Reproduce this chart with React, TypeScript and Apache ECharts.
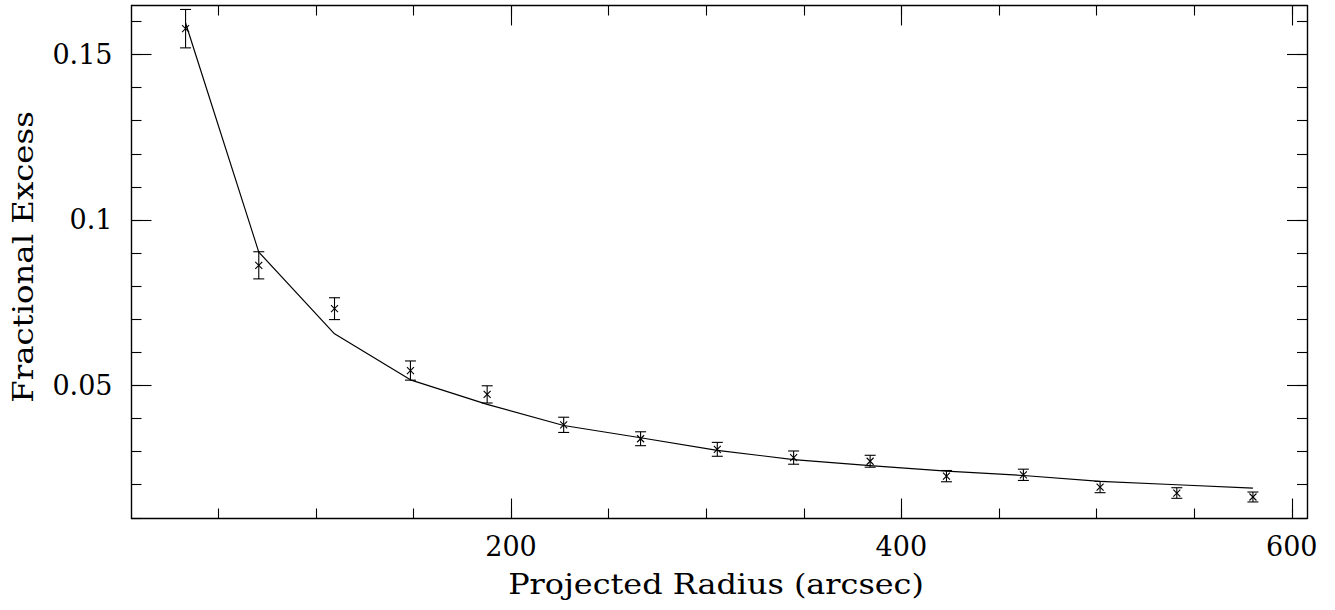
import React, { useEffect, useRef } from "react";
import * as echarts from "echarts";

const radius = [33.3, 70.8, 109.6, 148.5, 187.8, 227.0, 266.4, 305.7, 344.8, 384.0, 423.1, 462.5, 501.8, 541.1, 580.1];
const excess = [0.1578, 0.0863, 0.0732, 0.0545, 0.0473, 0.0381, 0.0339, 0.0307, 0.0282, 0.0271, 0.0226, 0.023, 0.0193, 0.0175, 0.0163];
const errors = [0.0058, 0.0041, 0.0033, 0.0029, 0.0026, 0.0023, 0.0021, 0.0021, 0.002, 0.0018, 0.0017, 0.0017, 0.0017, 0.0016, 0.0015];
const model = [0.1595, 0.0903, 0.0656, 0.0517, 0.0443, 0.0379, 0.0342, 0.0304, 0.0276, 0.0258, 0.0241, 0.0228, 0.021, 0.02, 0.019];

// Axis ticks
const xMajorTicks = [200, 400, 600];
const xMinorTicks = [50, 100, 150, 200, 250, 300, 350, 400, 450, 500, 550, 600];
const yMajorTicks = [0.05, 0.1, 0.15];
const yMinorTicks = [0.01, 0.02, 0.03, 0.04, 0.05, 0.06, 0.07, 0.08, 0.09, 0.1, 0.11, 0.12, 0.13, 0.14, 0.15, 0.16];

const xTitle = "Projected Radius (arcsec)";
const yTitle = "Fractional Excess";

const X_MIN = 5.6;
const X_MAX = 607.8;
const Y_MIN = 0.0098;
const Y_MAX = 0.1648;

const FONT = "DejaVu Serif";
const INK = "#000";

export default function App() {
  const ref = useRef<HTMLDivElement>(null);

  useEffect(() => {
    if (!ref.current) return;
    const chart = echarts.init(ref.current, undefined, { renderer: "svg" });

    const lineStyle = { color: INK, width: 1.4 };
    const baseX = (position: string, ticks: number[], len: number, showLine: boolean, labels: boolean) => ({
      type: "value",
      position,
      min: X_MIN,
      max: X_MAX,
      splitLine: { show: false },
      axisLine: { show: showLine, onZero: false, lineStyle },
      axisTick: { show: true, inside: true, length: len, customValues: ticks, lineStyle: { color: INK, width: 1.1 } },
      axisLabel: labels
        ? { show: true, customValues: ticks, margin: 14, fontFamily: FONT, fontSize: 27, color: INK }
        : { show: false },
    });
    const baseY = (position: string, ticks: number[], len: number, showLine: boolean, labels: boolean) => ({
      type: "value",
      position,
      min: Y_MIN,
      max: Y_MAX,
      splitLine: { show: false },
      axisLine: { show: showLine, onZero: false, lineStyle },
      axisTick: { show: true, inside: true, length: len, customValues: ticks, lineStyle: { color: INK, width: 1.1 } },
      axisLabel: labels
        ? { show: true, customValues: ticks, margin: 19, fontFamily: FONT, fontSize: 27, color: INK }
        : { show: false },
    });

    const option: any = {
      animation: false,
      backgroundColor: "#fff",
      grid: { left: 131.5, right: 28, top: 5.5, bottom: 91.5, containLabel: false },
      graphic: [
        {
          type: "text",
          x: 716,
          y: 585,
          scaleX: 1.18,
          style: {
            text: xTitle,
            fontFamily: FONT,
            fontSize: 27,
            fill: INK,
            textAlign: "center",
            textVerticalAlign: "middle",
          },
        },
        {
          type: "text",
          x: 23,
          y: 257,
          rotation: Math.PI / 2,
          scaleX: 1.2,
          style: {
            text: yTitle,
            fontFamily: FONT,
            fontSize: 27,
            fill: INK,
            textAlign: "center",
            textVerticalAlign: "middle",
          },
        },
      ],
      xAxis: [
        baseX("bottom", xMajorTicks, 20, true, true),
        baseX("bottom", xMinorTicks, 10, false, false),
        baseX("top", xMajorTicks, 20, true, false),
        baseX("top", xMinorTicks, 10, false, false),
      ],
      yAxis: [
        baseY("left", yMajorTicks, 20, true, true),
        baseY("left", yMinorTicks, 10, false, false),
        baseY("right", yMajorTicks, 20, true, false),
        baseY("right", yMinorTicks, 10, false, false),
      ],
      series: [
        {
          type: "line",
          xAxisIndex: 0,
          yAxisIndex: 0,
          data: radius.map((r, i) => [r, model[i]]),
          symbol: "none",
          lineStyle: { color: INK, width: 1.2 },
          silent: true,
        },
        {
          type: "custom",
          xAxisIndex: 0,
          yAxisIndex: 0,
          data: radius.map((r, i) => [r, excess[i], errors[i]]),
          renderItem: (params: any, api: any) => {
            const x = api.value(0);
            const y = api.value(1);
            const e = api.value(2);
            const c = api.coord([x, y]);
            const top = api.coord([x, y + e]);
            const bot = api.coord([x, y - e]);
            const cw = 5.5;
            const m = 3.5;
            const st = { stroke: INK, lineWidth: 1.1 };
            return {
              type: "group",
              children: [
                { type: "line", shape: { x1: c[0], y1: top[1], x2: c[0], y2: bot[1] }, style: st },
                { type: "line", shape: { x1: c[0] - cw, y1: top[1], x2: c[0] + cw, y2: top[1] }, style: st },
                { type: "line", shape: { x1: c[0] - cw, y1: bot[1], x2: c[0] + cw, y2: bot[1] }, style: st },
                { type: "line", shape: { x1: c[0] - m, y1: c[1] - m, x2: c[0] + m, y2: c[1] + m }, style: st },
                { type: "line", shape: { x1: c[0] - m, y1: c[1] + m, x2: c[0] + m, y2: c[1] - m }, style: st },
              ],
            };
          },
          silent: true,
        },
      ],
    };

    chart.setOption(option);
    return () => chart.dispose();
  }, []);

  return (
    <div
      ref={ref}
      style={{ position: "absolute", left: 0, top: 0, width: 1335, height: 610, background: "#fff" }}
    />
  );
}
